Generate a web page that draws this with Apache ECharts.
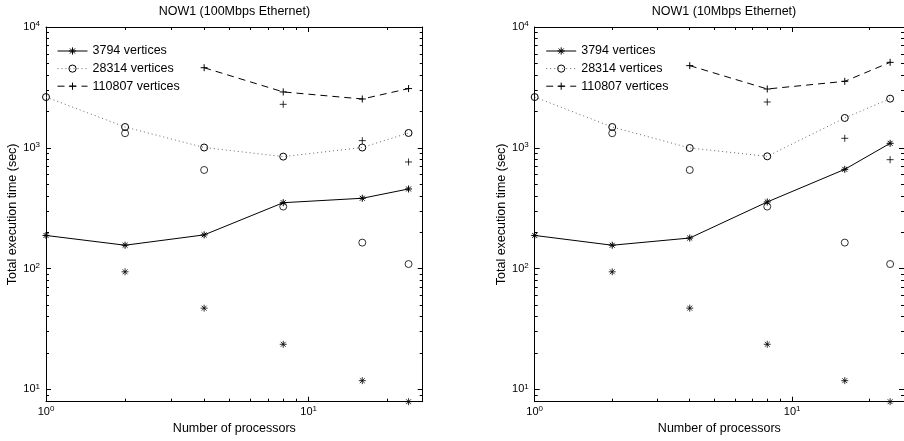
<!DOCTYPE html>
<html><head><meta charset="utf-8">
<script src="https://cdn.jsdelivr.net/npm/echarts@6.0.0/dist/echarts.min.js"></script>
<style>html,body{margin:0;padding:0;background:#fff}#c{width:904px;height:441px}</style>
</head><body><div id="c"></div>
<script>
// ---- data ----
const procs = [1, 2, 4, 8, 16, 24];
const procsIdeal = [2, 4, 8, 16, 24];
const procsLarge = [4, 8, 16, 24];
const procsLargeIdeal = [8, 16, 24];

const titles = ['NOW1 (100Mbps Ethernet)', 'NOW1 (10Mbps Ethernet)'];
const seriesNames = ['3794 vertices', '28314 vertices', '110807 vertices'];
const xName = 'Number of processors';
const yName = 'Total execution time (sec)';

// NOW1 100Mbps
const v3794_100 = [188, 156, 190, 351, 382, 456];
const v3794_100_ideal = [94, 47, 23.6, 11.8, 7.9];
const v28314_100 = [2630, 1486, 1005, 845, 1005, 1326];
const v28314_100_ideal = [1320, 655, 326, 164, 109];
const v110807_100 = [4600, 2900, 2535, 3090];
const v110807_100_ideal = [2290, 1146, 763];

// NOW1 10Mbps
const v3794_10 = [188, 156, 179, 356, 663, 1089];
const v3794_10_ideal = [94, 47, 23.6, 11.8, 7.9];
const v28314_10 = [2630, 1486, 996, 850, 1765, 2551];
const v28314_10_ideal = [1320, 655, 326, 164, 109];
const v110807_10 = [4786, 3067, 3550, 5098];
const v110807_10_ideal = [2394, 1198, 797];

// axis ticks
const xMin = 1, xMax = 27.17;
const yMin = 7.9, yMax = 10000;
const xTicksMajor = [1, 10];
const xTicksMinor = [2, 3, 4, 5, 6, 7, 8, 9, 20];
const yTicksMajor = [10, 100, 1000, 10000];
const yTicksMinor = [8, 9, 20, 30, 40, 50, 60, 70, 80, 90, 200, 300, 400, 500, 600, 700, 800, 900,
  2000, 3000, 4000, 5000, 6000, 7000, 8000, 9000];

// ---- build ----
const FONT = '"Liberation Sans", Arial, Helvetica, sans-serif';
const zip = (xs, ys) => xs.map((x, i) => [x, ys[i]]);

const gridsPx = [
  { left: 46, top: 27, width: 376.7, height: 374.7 },
  { left: 534.7, top: 27, width: 378.6, height: 374.7 }
];

const rich = {
  b: { fontSize: 11, lineHeight: 14, fontFamily: FONT, color: '#000' },
  s: { fontSize: 8, lineHeight: 7, verticalAlign: 'top', fontFamily: FONT, color: '#000' }
};
function powLabel(v) {
  const e = Math.log10(v);
  if (Math.abs(e - Math.round(e)) > 1e-6) return '';
  return '{b|10}{s|' + Math.round(e) + '}';
}
const blk = { color: '#000', width: 1 };

function makeAxes(dim, g) {
  const isX = dim === 'x';
  const base = {
    type: 'log', logBase: 10, gridIndex: g,
    min: isX ? xMin : yMin, max: isX ? xMax : yMax,
    splitLine: { show: false }, silent: true
  };
  const major = isX ? xTicksMajor : yTicksMajor;
  const minor = isX ? xTicksMinor : yTicksMinor;
  const p1 = isX ? 'bottom' : 'left', p2 = isX ? 'top' : 'right';
  const main = Object.assign({}, base, {
    position: p1,
    axisLine: { show: true, onZero: false, lineStyle: blk },
    axisTick: { show: true, inside: true, length: 5, lineStyle: blk, customValues: major },
    axisLabel: { show: true, customValues: major, formatter: powLabel, rich: rich, margin: isX ? 3 : 6, color: '#000' },
    name: isX ? xName : yName, nameLocation: 'middle', nameGap: isX ? 20 : 24,
    nameTextStyle: { fontSize: 12.5, fontFamily: FONT, color: '#000' }
  });
  const mainMinor = Object.assign({}, base, {
    position: p1,
    axisLine: { show: false, onZero: false },
    axisTick: { show: true, inside: true, length: 3, lineStyle: blk, customValues: minor },
    axisLabel: { show: false }
  });
  const opp = Object.assign({}, base, {
    position: p2,
    axisLine: { show: true, onZero: false, lineStyle: blk },
    axisTick: { show: true, inside: true, length: 5, lineStyle: blk, customValues: major },
    axisLabel: { show: false }
  });
  const oppMinor = Object.assign({}, base, {
    position: p2,
    axisLine: { show: false, onZero: false },
    axisTick: { show: true, inside: true, length: 3, lineStyle: blk, customValues: minor },
    axisLabel: { show: false }
  });
  return [main, mainMinor, opp, oppMinor];
}

const SYM_AST = 'path://M5,0L5,10M0,5L10,5M1.5,1.5L8.5,8.5M1.5,8.5L8.5,1.5';
const SYM_PLUS = 'path://M5,0L5,10M0,5L10,5';
const SYM_CIRC = 'path://M10,5A5,5,0,1,1,0,5A5,5,0,1,1,10,5Z';

const styles = [
  { symbol: SYM_AST, size: 7, line: { color: '#000', width: 1, type: 'solid' } },
  { symbol: SYM_CIRC, size: 7, line: { color: '#666', width: 1, type: [1, 3] } },
  { symbol: SYM_PLUS, size: 7, line: { color: '#000', width: 1, type: [7, 5] } }
];
const symItem = { color: 'rgba(0,0,0,0)', borderColor: '#000', borderWidth: 1 };

const panels = [
  {
    lines: [zip(procs, v3794_100), zip(procs, v28314_100), zip(procsLarge, v110807_100)],
    ideal: [zip(procsIdeal, v3794_100_ideal), zip(procsIdeal, v28314_100_ideal), zip(procsLargeIdeal, v110807_100_ideal)]
  },
  {
    lines: [zip(procs, v3794_10), zip(procs, v28314_10), zip(procsLarge, v110807_10)],
    ideal: [zip(procsIdeal, v3794_10_ideal), zip(procsIdeal, v28314_10_ideal), zip(procsLargeIdeal, v110807_10_ideal)]
  }
];

const grid = [], xAxis = [], yAxis = [], series = [], title = [], legend = [];
panels.forEach((p, g) => {
  const gp = gridsPx[g];
  grid.push(Object.assign({ containLabel: false }, gp));
  xAxis.push(...makeAxes('x', g));
  yAxis.push(...makeAxes('y', g));
  title.push({
    text: titles[g], left: gp.left + gp.width / 2, top: 5, textAlign: 'center', padding: 0,
    textStyle: { fontSize: 12.5, fontWeight: 'normal', color: '#000', fontFamily: FONT }
  });
  legend.push({
    data: seriesNames.slice(), orient: 'vertical', left: gp.left + 11, top: 43.5,
    padding: 0, itemWidth: 30, itemHeight: 9, itemGap: 2.6, selectedMode: false,
    itemStyle: { color: 'rgba(0,0,0,0)', borderColor: '#000', borderWidth: 1 },
    lineStyle: { width: 1, color: 'inherit', type: 'inherit' },
    textStyle: { fontSize: 12.5, lineHeight: 15, color: '#000', fontFamily: FONT }
  });
  p.lines.forEach((d, k) => {
    const st = styles[k];
    series.push({
      type: 'line', name: seriesNames[k], xAxisIndex: g * 4, yAxisIndex: g * 4, data: d,
      symbol: st.symbol, symbolSize: st.size, showSymbol: true,
      lineStyle: st.line, itemStyle: symItem, color: '#000', animation: false, silent: true
    });
    series.push({
      type: 'scatter', name: seriesNames[k] + ' (ideal)', xAxisIndex: g * 4, yAxisIndex: g * 4, data: p.ideal[k],
      symbol: st.symbol, symbolSize: st.size, itemStyle: symItem, animation: false, silent: true
    });
  });
});

const chart = echarts.init(document.getElementById('c'), null, { renderer: 'canvas' });
chart.setOption({
  backgroundColor: '#fff', animation: false,
  textStyle: { fontFamily: FONT },
  title, legend, grid, xAxis, yAxis, series
});
</script></body></html>
